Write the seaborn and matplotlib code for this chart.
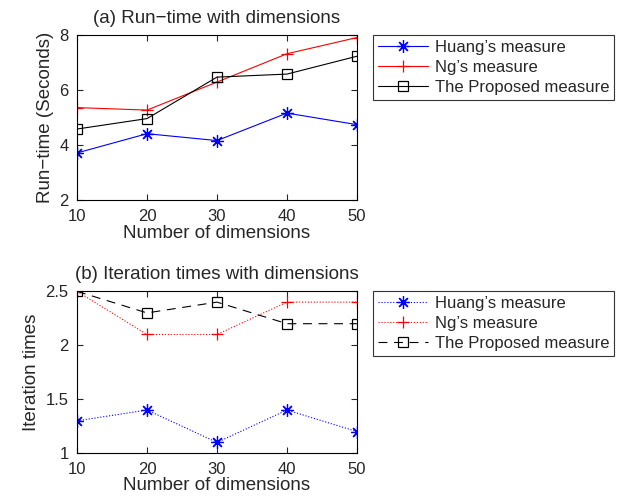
"""Run-time and iteration times with dimensions"""
import matplotlib
matplotlib.use("Agg")
from matplotlib import pyplot as plt
import pandas as pd
import seaborn as sns

dims = [10, 20, 30, 40, 50]
labels = ["Huang\u2019s measure", "Ng\u2019s measure", "The Proposed measure"]

runtime_huang = [3.72, 4.42, 4.17, 5.17, 4.75]
runtime_ng = [5.37, 5.28, 6.30, 7.33, 7.92]
runtime_proposed = [4.59, 4.97, 6.48, 6.59, 7.24]

iter_huang = [1.3, 1.4, 1.1, 1.4, 1.2]
iter_ng = [2.5, 2.1, 2.1, 2.4, 2.4]
iter_proposed = [2.5, 2.3, 2.4, 2.2, 2.2]

colors = ["#0000ff", "#ff0000", "#000000"]
markers = [(8, 2, 0), "+", "s"]

sns.set_style("ticks")
plt.rcParams["font.family"] = ["Liberation Sans", "DejaVu Sans"]
plt.rcParams["font.size"] = 12


def matlab_axes(ax):
    ax.tick_params(direction="in", top=True, right=True, labelsize=12, length=4, pad=6)
    for s in ax.spines.values():
        s.set_linewidth(0.8)
        s.set_color("black")


def plot_panel(ax, series, styles, title, ylabel, ylim, yticks, yticklabels, xpad):
    for vals, lab, c, m, ls in zip(series, labels, colors, markers, styles):
        df = pd.DataFrame({"dim": dims, "val": vals})
        mfc = "none" if m == "s" else c
        sns.lineplot(
            data=df, x="dim", y="val", ax=ax, color=c, linestyle=ls, linewidth=0.8,
            marker=m, markersize=9 if m != "s" else 7.5, markerfacecolor=mfc,
            markeredgecolor=c, markeredgewidth=0.9, label=lab,
        )
    ax.set_xlim(10, 50)
    ax.set_ylim(*ylim)
    ax.set_xticks(dims)
    ax.set_yticks(yticks)
    ax.set_yticklabels(yticklabels)
    ax.set_xlabel("Number of dimensions", fontsize=13.5, labelpad=xpad)
    ax.set_ylabel(ylabel, fontsize=13.5, labelpad=4)
    ax.set_title(title, fontsize=13.5, pad=9)
    matlab_axes(ax)
    leg = ax.legend(loc="upper left", bbox_to_anchor=(1.057, 1.005), frameon=True,
                    fancybox=False, edgecolor="black", fontsize=12, handlelength=3.0,
                    borderpad=0.3, labelspacing=0.3, handletextpad=0.4, borderaxespad=0)
    leg.get_frame().set_linewidth(0.8)


fig = plt.figure(figsize=(6.3, 4.98), dpi=100)
ax1 = fig.add_axes([0.1222, 0.598, 0.4444, 0.331])
ax2 = fig.add_axes([0.1222, 0.090, 0.4444, 0.325])

plot_panel(ax1, [runtime_huang, runtime_ng, runtime_proposed], ["-", "-", "-"],
           "(a) Run\u2212time with dimensions", "Run\u2212time (Seconds)",
           (2, 8), [2, 4, 6, 8], ["2", "4", "6", "8"], 1)
plot_panel(ax2, [iter_huang, iter_ng, iter_proposed], [":", ":", (0, (8, 6))],
           "(b) Iteration times with dimensions", "Iteration times",
           (1, 2.5), [1, 1.5, 2, 2.5], ["1", "1.5", "2", "2.5"], 0)

plt.savefig("out.png", dpi=100)
